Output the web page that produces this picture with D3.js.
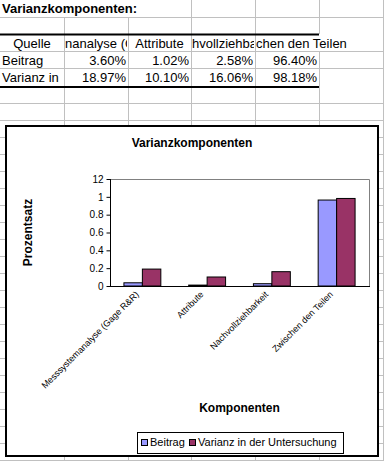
<!DOCTYPE html>
<html>
<head>
<meta charset="utf-8">
<script src="https://cdn.jsdelivr.net/npm/d3@7"></script>
<style>
  body { margin: 0; background: #fff; }
  svg { display: block; }
  text { font-family: "Liberation Sans", Arial, sans-serif; }
</style>
</head>
<body>
<script>
// sheet data
var sheetTitle = "Varianzkomponenten:";
var categories = ["Messsystemanalyse (Gage R&R)", "Attribute", "Nachvollziehbarkeit", "Zwischen den Teilen"];
var seriesNames = ["Beitrag", "Varianz in der Untersuchung"];
var beitrag = [0.0360, 0.0102, 0.0258, 0.9640];
var varianz = [0.1897, 0.1010, 0.1606, 0.9818];
var yTicks = [0, 0.2, 0.4, 0.6, 0.8, 1, 1.2];
var yTickLabels = ["0", "0.2", "0.4", "0.6", "0.8", "1", "12"];
// what the narrow sheet cells actually show of the header / row labels
var headerShown = ["Quelle", "nanalyse (G", "Attribute", "hvollziehba", "chen den Teilen"];
var rowShown = ["Beitrag", "Varianz in"];
var seriesColors = ["#9999ff", "#993366"];

var width = 384, height = 461;

var svg = d3.select("body").append("svg")
    .attr("width", width)
    .attr("height", height);

// --- spreadsheet grid ---
var colEdges = [0, 64, 128, 191, 255, 319, 383];
var rowLines = [17, 51, 68];
for (var y = 103; y <= height; y += 17) rowLines.push(y);

var defs = svg.append("defs");
var grid = svg.append("g").attr("stroke", "#c0c0c0").attr("stroke-width", 1);

rowLines.forEach(function(y){
    grid.append("line").attr("x1", 0).attr("x2", width).attr("y1", y + 0.5).attr("y2", y + 0.5);
});
colEdges.slice(1).forEach(function(x){
    // title row text spills over the first columns
    var top = (x < 191) ? 17 : 0;
    if (x == 319) {
        grid.append("line").attr("x1", x + 0.5).attr("x2", x + 0.5).attr("y1", 0).attr("y2", 34);
        grid.append("line").attr("x1", x + 0.5).attr("x2", x + 0.5).attr("y1", 51).attr("y2", height);
    } else {
        grid.append("line").attr("x1", x + 0.5).attr("x2", x + 0.5).attr("y1", top).attr("y2", height);
    }
});

// thick table borders
[34.5, 87].forEach(function(y){
    svg.append("line").attr("x1", 0).attr("x2", 319).attr("y1", y).attr("y2", y)
        .attr("stroke", "#000").attr("stroke-width", 2);
});

svg.append("text")
    .attr("x", 2).attr("y", 13)
    .style("font-size", "13px").style("font-weight", "bold")
    .text(sheetTitle);

function clipCell(id, x0, x1) {
    defs.append("clipPath").attr("id", id)
        .append("rect").attr("x", x0).attr("y", 0).attr("width", x1 - x0).attr("height", height);
    return "url(#" + id + ")";
}

headerShown.forEach(function(h, i){
    var x0 = colEdges[i], x1 = colEdges[i + 1];
    var t = svg.append("text")
        .attr("y", 48)
        .style("font-size", "13px")
        .text(h);
    if (i == 0 || i == 2) {
        t.attr("x", (x0 + x1) / 2).attr("text-anchor", "middle");
    } else {
        t.attr("x", x0 + 1);
        if (i < headerShown.length - 1) t.attr("clip-path", clipCell("hc" + i, x0 + 1, x1 - 1));
    }
});

var fmt = d3.format(".2%");
[beitrag, varianz].forEach(function(vals, r){
    var by = 65 + r * 17;
    svg.append("text")
        .attr("x", 2).attr("y", by)
        .style("font-size", "13px")
        .text(rowShown[r]);
    vals.forEach(function(v, i){
        svg.append("text")
            .attr("x", colEdges[i + 2] - 2).attr("y", by)
            .attr("text-anchor", "end")
            .style("font-size", "13px")
            .text(fmt(v));
    });
});

// --- embedded chart ---
svg.append("rect")
    .attr("x", 6).attr("y", 126).attr("width", 372).attr("height", 330)
    .attr("fill", "#fff").attr("stroke", "#000").attr("stroke-width", 2);

svg.append("text")
    .attr("x", 192).attr("y", 147)
    .attr("text-anchor", "middle")
    .style("font-size", "12px").style("font-weight", "bold")
    .text("Varianzkomponenten");

var plot = {left: 110, right: 369, top: 179, bottom: 286};

var x = d3.scaleBand()
    .domain(categories)
    .range([plot.left, plot.right])
    .paddingInner(0.43)
    .paddingOuter(0.215);

var xs = d3.scaleBand()
    .domain(seriesNames)
    .range([0, x.bandwidth()]);

var yScale = d3.scaleLinear()
    .domain([0, 1.2])
    .range([plot.bottom, plot.top]);

// plot frame: top and right in grey
svg.append("path")
    .attr("d", "M" + plot.left + "," + (plot.top + 0.5) + "H" + (plot.right + 0.5) + "V" + plot.bottom)
    .attr("fill", "none").attr("stroke", "#808080");

var bars = svg.append("g");
[beitrag, varianz].forEach(function(vals, s){
    bars.selectAll(null)
        .data(vals)
        .enter().append("rect")
        .attr("x", function(d, i){ return x(categories[i]) + xs(seriesNames[s]); })
        .attr("y", function(d){ return yScale(d); })
        .attr("width", xs.bandwidth())
        .attr("height", function(d){ return yScale(0) - yScale(d); })
        .attr("fill", seriesColors[s])
        .attr("stroke", "#000").attr("stroke-width", 1);
});

var yAxis = d3.axisLeft(yScale)
    .tickValues(yTicks)
    .tickSize(4)
    .tickPadding(3)
    .tickFormat(function(d, i){ return yTickLabels[i]; });

var yg = svg.append("g")
    .attr("transform", "translate(" + (plot.left + 0.5) + ",0)")
    .call(yAxis);
yg.select(".domain").attr("stroke", "#000").attr("d", "M0," + plot.top + "V" + plot.bottom);
yg.selectAll("text").style("font-size", "10px").style("font-family", "'Liberation Sans', Arial, sans-serif");

svg.append("line")
    .attr("x1", plot.left).attr("x2", plot.right + 1)
    .attr("y1", plot.bottom + 0.5).attr("y2", plot.bottom + 0.5)
    .attr("stroke", "#000");

// rotated category labels
categories.forEach(function(c){
    var cx = x(c) + x.bandwidth() / 2 - 3;
    svg.append("text")
        .attr("transform", "translate(" + cx + "," + 295 + ") rotate(-45)")
        .attr("text-anchor", "end")
        .style("font-size", "9px")
        .text(c);
});

svg.append("text")
    .attr("transform", "translate(32," + ((plot.top + plot.bottom) / 2) + ") rotate(-90)")
    .attr("text-anchor", "middle")
    .style("font-size", "12px").style("font-weight", "bold")
    .text("Prozentsatz");

svg.append("text")
    .attr("x", (plot.left + plot.right) / 2).attr("y", 412)
    .attr("text-anchor", "middle")
    .style("font-size", "12px").style("font-weight", "bold")
    .text("Komponenten");

// legend
var legend = svg.append("g");
legend.append("rect")
    .attr("x", 137.5).attr("y", 432.5).attr("width", 206).attr("height", 21)
    .attr("fill", "#fff").attr("stroke", "#000");

var legendX = [141, 189];
seriesNames.forEach(function(n, i){
    legend.append("rect")
        .attr("x", legendX[i] + 0.5).attr("y", 439.5).attr("width", 6).attr("height", 6)
        .attr("fill", seriesColors[i]).attr("stroke", "#000");
    legend.append("text")
        .attr("x", legendX[i] + 9).attr("y", 446)
        .style("font-size", "11px")
        .text(n);
});
</script>
</body>
</html>
